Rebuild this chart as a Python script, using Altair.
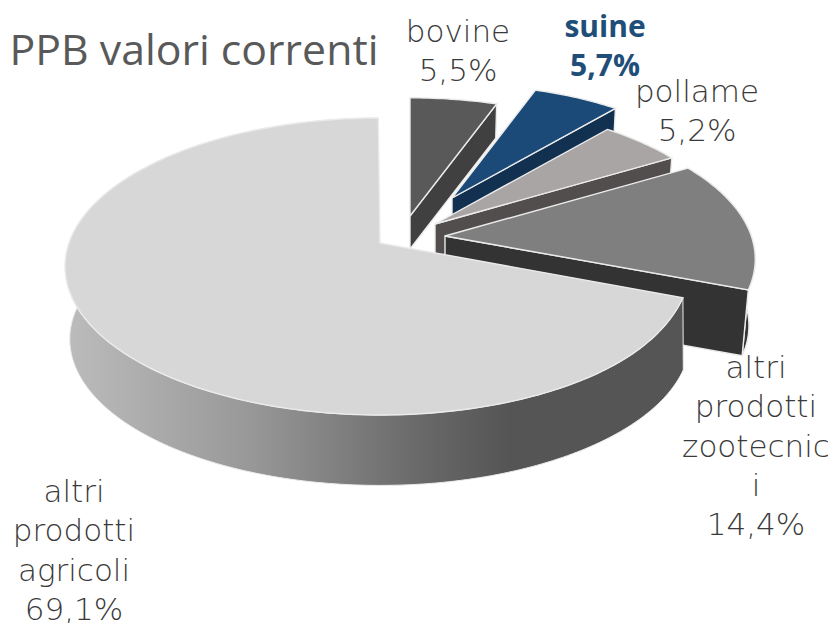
import math
import altair as alt
import pandas as pd

names = ["bovine", "suine", "pollame", "altri prodotti zootecnici", "altri prodotti agricoli"]
shares = [5.5, 5.7, 5.2, 14.4, 69.1]
top_colours = ["#595959", "#1b4a78", "#a9a5a4", "#7f7f7f", "#d7d7d7"]
wall_colours = ["#404040", "#12304f", "#524e4e", "#333333", "#555555"]

# perspective of the tilted disc
K, RX, RY = 0.158, 311.0, 144.8
# per-slice apex x, apex y, scale of top face, depth, scale of bottom face
GEOM = [
    (410, 216, 0.945, 33, 0.935),
    (452, 198, 0.91, 33, 0.90),
    (435, 224, 0.96, 33, 0.95),
    (445, 236, 0.985, 67, 0.965),
    (380, 243, 1.0, 73, 0.985),
]


def pt(ax, ay, s, deg, warp=False):
    t = math.radians(deg)
    u, v = math.sin(t), -math.cos(t)
    d = 1 - K * v
    x, y = ax + s * RX * u / d, ay + s * RY * v / d
    if warp:  # the big slice ends slightly short of the ideal ellipse
        x -= 5 * math.exp(-(((deg - 110.9) / 25) ** 2))
    return [x, y]


def arc(ax, ay, s, a0, a1, warp=False):
    n = max(2, int(abs(a1 - a0)))
    return [pt(ax, ay, s, a0 + (a1 - a0) * i / n, warp) for i in range(n + 1)]


EDGE = "#ebebeb"


def poly(points, fill, width=1.4):
    ring = points + [points[0]]
    feat = {"type": "Feature", "properties": {},
            "geometry": {"type": "Polygon", "coordinates": [ring]}}
    data = alt.InlineData(values={"type": "FeatureCollection", "features": [feat]},
                          format=alt.DataFormat(type="json", property="features"))
    return alt.Chart(data).mark_geoshape(fill=fill, stroke=EDGE, strokeWidth=width).project(
        type="identity", scale=1, translate=[-8, -8])


big_wall = alt.Gradient(
    gradient="linear", x1=0, x2=1, y1=0, y2=0,
    stops=[alt.GradientStop(offset=0, color="#bcbcbc"),
           alt.GradientStop(offset=0.3, color="#989898"),
           alt.GradientStop(offset=0.58, color="#686868"),
           alt.GradientStop(offset=0.72, color="#555555"),
           alt.GradientStop(offset=1, color="#555555")])

layers = []
start = 0.0
last = len(shares) - 1
for i, share in enumerate(shares):
    a0 = start
    a1 = start + share * 3.6
    start = a1
    ax, ay, s, depth, sb = GEOM[i]
    warp = i == last
    top_arc = arc(ax, ay, s, a0, a1, warp)
    bot_arc = arc(ax, ay + depth, sb, a0, a1, warp=False)
    if i == last:
        layers.append(poly(top_arc + bot_arc[::-1], big_wall, 1.0))
    else:
        if i == 3:  # only this outer wall shows past its own top face
            layers.append(poly(top_arc + bot_arc[::-1], wall_colours[i]))
        # cut wall at the end of the slice
        layers.append(poly([[ax, ay], pt(ax, ay, s, a1), pt(ax, ay + depth, sb, a1), [ax, ay + depth]], wall_colours[i]))
    layers.append(poly([[ax, ay]] + top_arc, top_colours[i]))


def text(line, x, y, size, font, colour, weight="normal", align="center"):
    return alt.Chart(pd.DataFrame({"t": [line]})).mark_text(
        font=font, fontSize=size, color=colour, fontWeight=weight, align=align, baseline="alphabetic"
    ).encode(text="t:N", x=alt.value(x - 8), y=alt.value(y - 8))


LABEL_FONT = "DejaVu Sans"
LABEL_COLOUR = "#3a3a3a"
LINE = 39.3
label_lines = [
    (["bovine", "5,5%"], 458, 42),
    (["pollame", "5,2%"], 697, 102),
    (["altri", "prodotti", "zootecnic", "i", "14,4%"], 756, 378),
    (["altri", "prodotti", "agricoli", "69,1%"], 74, 502),
]
for lines, x, y in label_lines:
    for j, line in enumerate(lines):
        layers.append(text(line, x, y + j * LINE, 31, LABEL_FONT, LABEL_COLOUR, 200))
for j, line in enumerate(["suine", "5,7%"]):
    layers.append(text(line, 605, 37 + j * 39, 30, "Open Sans", "#1f4e79", "bold"))

layers.append(text("PPB valori correnti", 9.5, 65, 42.8, "Open Sans", "#595959", "normal", "left"))

chart = alt.layer(*layers).properties(
    width=820, height=615, padding=0, autosize=alt.AutoSizeParams(type="none"),
    background="white"
).configure_view(stroke=None)

chart.save("out.html", embed_options={"renderer": "svg", "actions": False})
